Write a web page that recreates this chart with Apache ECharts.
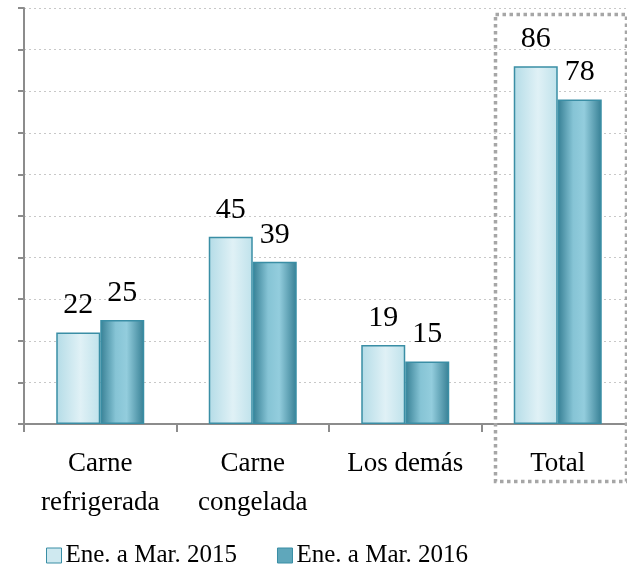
<!DOCTYPE html>
<html>
<head>
<meta charset="utf-8">
<script src="https://cdn.jsdelivr.net/npm/echarts@6/dist/echarts.min.js"></script>
<style>
  html, body { margin: 0; padding: 0; background: #fff; }
  #main { width: 627px; height: 569px; }
</style>
</head>
<body>
<div id="main"></div>
<script>
// datos
const categories = ['Carne\nrefrigerada', 'Carne\ncongelada', 'Los demás', 'Total']
const seriesNames = ['Ene. a Mar. 2015', 'Ene. a Mar. 2016']
const values2015 = [22, 45, 19, 86]
const values2016 = [25, 39, 15, 78]

const serif = '"Liberation Serif", "Times New Roman", serif'

const fill2015 = new echarts.graphic.LinearGradient(0, 0, 1, 0, [
  { offset: 0, color: '#b4dce7' },
  { offset: 0.55, color: '#e0f1f6' },
  { offset: 1, color: '#bfe2eb' }
])
const fill2016 = new echarts.graphic.LinearGradient(0, 0, 1, 0, [
  { offset: 0, color: '#367f94' },
  { offset: 0.35, color: '#86c4d5' },
  { offset: 0.6, color: '#93cddd' },
  { offset: 1, color: '#367f94' }
])

const chart = echarts.init(document.getElementById('main'), null, { renderer: 'canvas' })

const labelStyle = {
  show: true,
  position: 'top',
  distance: 12,
  color: '#000',
  fontFamily: serif,
  fontSize: 30
}

chart.setOption({
  animation: false,
  // la ultima categoria queda cortada por el borde derecho
  grid: { left: 24, top: 8, width: 610, height: 416, containLabel: false, outerBoundsMode: 'none' },
  legend: {
    data: [
      { name: seriesNames[0], itemStyle: { color: '#cfe9f0', borderColor: '#3a8ea5', borderWidth: 1 } },
      { name: seriesNames[1], itemStyle: { color: '#5fa7bb', borderColor: '#3a8ea5', borderWidth: 1 } }
    ],
    top: 538,
    left: 41,
    icon: 'rect',
    itemWidth: 15,
    itemHeight: 15,
    itemGap: 40,
    textStyle: { fontFamily: serif, fontSize: 25, color: '#000', padding: [0, 0, 0, -1] }
  },
  xAxis: {
    type: 'category',
    data: categories,
    axisLine: { lineStyle: { color: '#8c8c8c', width: 2 } },
    axisTick: { show: true, length: 8, lineStyle: { color: '#8c8c8c', width: 2 } },
    axisLabel: {
      color: '#000',
      fontFamily: serif,
      fontSize: 27,
      lineHeight: 39,
      margin: 20,
      interval: 0
    }
  },
  yAxis: {
    type: 'value',
    min: 0,
    max: 100,
    interval: 10,
    axisLabel: { show: false },
    axisLine: { show: true, lineStyle: { color: '#8c8c8c', width: 2 } },
    axisTick: { show: true, length: 6, lineStyle: { color: '#8c8c8c', width: 2 } },
    splitLine: { show: true, lineStyle: { color: '#c8c8c8', type: [2, 3], width: 1 } }
  },
  series: [
    {
      name: seriesNames[0],
      type: 'bar',
      data: values2015,
      barWidth: 44,
      barGap: '0%',
      itemStyle: { color: fill2015, borderColor: '#3a8ea5', borderWidth: 1.5 },
      label: labelStyle
    },
    {
      name: seriesNames[1],
      type: 'bar',
      data: values2016,
      barWidth: 44,
      barGap: '0%',
      itemStyle: { color: fill2016, borderColor: '#3a8ea5', borderWidth: 1.5 },
      label: labelStyle
    }
  ],
  graphic: [
    {
      type: 'rect',
      left: 493,
      top: 12,
      shape: { x: 0, y: 0, width: 131, height: 467 },
      style: { fill: 'none', stroke: '#a6a6a6', lineWidth: 3.5, lineDash: [3.5, 3.5] },
      z: 10,
      silent: true
    }
  ]
})
</script>
</body>
</html>
